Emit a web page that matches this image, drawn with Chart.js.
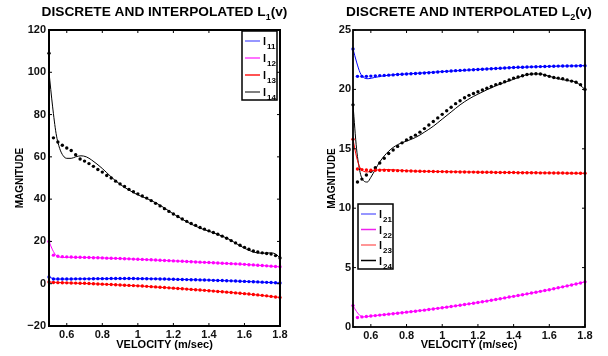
<!DOCTYPE html>
<html>
<head>
<meta charset="utf-8">
<script src="https://cdn.jsdelivr.net/npm/chart.js@4.4.0/dist/chart.umd.min.js"></script>
<style>
  body { margin: 0; background: #fff; }
  #wrap { position: relative; width: 608px; height: 356px; }
  canvas { position: absolute; top: 0; }
  #c1 { left: 0; }
  #c2 { left: 304px; }
</style>
</head>
<body>
<div id="wrap">
  <canvas id="c1" width="304" height="356"></canvas>
  <canvas id="c2" width="304" height="356"></canvas>
</div>
<script>
// discrete velocities (m/sec)
const velocity = [0.5, 0.525, 0.55, 0.575, 0.6, 0.625, 0.65, 0.675, 0.7, 0.725, 0.75, 0.775, 0.8,
  0.825, 0.85, 0.875, 0.9, 0.925, 0.95, 0.975, 1.0, 1.025, 1.05, 1.075, 1.1, 1.125, 1.15, 1.175, 1.2,
  1.225, 1.25, 1.275, 1.3, 1.325, 1.35, 1.375, 1.4, 1.425, 1.45, 1.475, 1.5, 1.525, 1.55, 1.575, 1.6,
  1.625, 1.65, 1.675, 1.7, 1.725, 1.75, 1.775, 1.8];

// L1(v) discrete values
const l11 = [3.2, 2.2, 2.2, 2.2, 2.2, 2.2, 2.3, 2.3, 2.3, 2.3, 2.35, 2.4, 2.4,
  2.4, 2.45, 2.45, 2.45, 2.45, 2.45, 2.45, 2.4, 2.4, 2.35, 2.3, 2.3, 2.25, 2.2, 2.15, 2.1,
  2.05, 2.0, 1.95, 1.9, 1.85, 1.8, 1.75, 1.7, 1.6, 1.55, 1.5, 1.4, 1.35, 1.25, 1.2, 1.1,
  1.0, 0.95, 0.85, 0.75, 0.65, 0.55, 0.45, 0.35];
const l12 = [20, 13.5, 13.0, 12.8, 12.7, 12.6, 12.55, 12.5, 12.45, 12.4, 12.3, 12.25, 12.2,
  12.1, 12.05, 12.0, 11.9, 11.8, 11.75, 11.65, 11.55, 11.5, 11.4, 11.3, 11.2, 11.1, 11.0, 10.9, 10.8,
  10.7, 10.6, 10.5, 10.4, 10.3, 10.2, 10.1, 10.0, 9.9, 9.8, 9.7, 9.6, 9.5, 9.4, 9.3, 9.15,
  9.0, 8.9, 8.75, 8.6, 8.45, 8.3, 8.15, 8.0];
const l13 = [0.8, 0.6, 0.5, 0.45, 0.4, 0.35, 0.3, 0.25, 0.2, 0.1, 0.0, -0.1, -0.2,
  -0.3, -0.4, -0.5, -0.6, -0.7, -0.8, -0.9, -1.0, -1.1, -1.25, -1.4, -1.5, -1.65, -1.8, -1.95, -2.1,
  -2.25, -2.4, -2.55, -2.7, -2.85, -3.0, -3.15, -3.3, -3.5, -3.65, -3.8, -4.0, -4.15, -4.35, -4.5, -4.7,
  -4.9, -5.1, -5.3, -5.5, -5.75, -6.0, -6.25, -6.5];
const l14 = [109, 69, 67, 65.5, 64.2, 63, 61, 59, 58, 56.8, 55.5, 54, 52.8,
  51.2, 50, 48.5, 47.2, 46, 44.6, 43.5, 42.5, 41.5, 40.5, 39.3, 38, 36.8, 35.5, 34.2, 33,
  31.8, 30.6, 29.5, 28.5, 27.6, 26.6, 25.8, 25, 24.2, 23.4, 22.5, 21.5, 20.4, 19.3, 18.2, 17.2,
  16.3, 15.5, 15, 14.6, 14.3, 14, 13.3, 12.2];

// L2(v) discrete values
const l21 = [23.4, 21.1, 21.1, 21.1, 21.12, 21.14, 21.16, 21.18, 21.2, 21.22, 21.25, 21.28, 21.3,
  21.32, 21.34, 21.36, 21.38, 21.4, 21.43, 21.46, 21.5, 21.52, 21.55, 21.58, 21.6, 21.62, 21.64, 21.66, 21.68,
  21.7, 21.72, 21.74, 21.76, 21.78, 21.8, 21.82, 21.84, 21.86, 21.87, 21.88, 21.9, 21.91, 21.92, 21.93, 21.94,
  21.95, 21.96, 21.97, 21.97, 21.98, 21.98, 21.99, 22.0];
const l22 = [1.8, 0.8, 0.85, 0.88, 0.92, 0.96, 1.0, 1.04, 1.08, 1.12, 1.16, 1.2, 1.25,
  1.29, 1.33, 1.38, 1.42, 1.47, 1.52, 1.57, 1.62, 1.67, 1.72, 1.78, 1.83, 1.89, 1.95, 2.0, 2.06,
  2.12, 2.18, 2.25, 2.32, 2.38, 2.45, 2.52, 2.58, 2.65, 2.72, 2.79, 2.86, 2.93, 3.0, 3.07, 3.14,
  3.22, 3.3, 3.38, 3.46, 3.54, 3.62, 3.7, 3.8];
const l23 = [15.8, 13.3, 13.25, 13.22, 13.2, 13.2, 13.2, 13.19, 13.18, 13.17, 13.16, 13.15, 13.14,
  13.13, 13.12, 13.11, 13.1, 13.1, 13.09, 13.08, 13.08, 13.07, 13.06, 13.06, 13.05, 13.05, 13.04, 13.04, 13.03,
  13.03, 13.02, 13.02, 13.01, 13.01, 13.0, 13.0, 13.0, 12.99, 12.99, 12.98, 12.98, 12.98, 12.97, 12.97, 12.97,
  12.96, 12.96, 12.96, 12.95, 12.95, 12.95, 12.94, 12.94];
const l24 = [18.7, 12.2, 12.45, 12.8, 13.1, 13.4, 13.8, 14.2, 14.6, 14.9, 15.2, 15.5, 15.75,
  15.95, 16.15, 16.4, 16.7, 17.0, 17.3, 17.6, 17.9, 18.2, 18.5, 18.8, 19.05, 19.3, 19.5, 19.65, 19.8,
  19.95, 20.1, 20.25, 20.4, 20.5, 20.65, 20.8, 20.95, 21.05, 21.15, 21.25, 21.3, 21.32, 21.3, 21.2, 21.1,
  21.0, 20.95, 20.9, 20.8, 20.7, 20.6, 20.4, 20.0];

// interpolated curves
const l11CurveV = [0.5, 0.52, 0.54, 0.6, 0.8, 1.0, 1.2, 1.4, 1.6, 1.8];
const l11Curve  = [3.2, 2.5, 2.2, 2.2, 2.4, 2.4, 2.1, 1.7, 1.1, 0.35];
const l12CurveV = [0.5, 0.52, 0.54, 0.56, 0.58, 0.6, 0.7, 0.8, 1.0, 1.2, 1.4, 1.6, 1.8];
const l12Curve  = [20, 16, 13.4, 12.6, 12.4, 12.5, 12.45, 12.2, 11.55, 10.8, 10.0, 9.15, 8.0];
const l13CurveV = [0.5, 0.6, 0.8, 1.0, 1.2, 1.4, 1.6, 1.8];
const l13Curve  = [0.8, 0.4, -0.2, -1.0, -2.1, -3.3, -4.7, -6.5];
const l14CurveV = [0.5, 0.52, 0.54, 0.56, 0.58, 0.6, 0.625, 0.65, 0.68, 0.71, 0.74, 0.8, 0.85, 0.9, 0.95,
  1.0, 1.05, 1.1, 1.15, 1.2, 1.25, 1.3, 1.35, 1.4, 1.45, 1.5, 1.55, 1.6, 1.65, 1.7, 1.75, 1.78, 1.8];
const l14Curve  = [100, 84, 71, 64, 60.5, 59.3, 59.3, 60, 60.5, 60, 58.5, 54.5, 50.5, 47, 44.3,
  42, 40.3, 38.3, 35.8, 33, 30.5, 28.2, 26.3, 24.8, 23.3, 21.6, 19.2, 16.8, 15, 14.4, 14.6, 13.8, 12.2];

const l21CurveV = [0.5, 0.52, 0.54, 0.56, 0.585, 0.62, 0.7, 0.8, 1.0, 1.2, 1.4, 1.6, 1.8];
const l21Curve  = [23.4, 22.3, 21.4, 21.0, 20.9, 21.0, 21.2, 21.3, 21.5, 21.68, 21.84, 21.94, 22.0];
const l22CurveV = [0.5, 0.52, 0.54, 0.56, 0.6, 0.8, 1.0, 1.2, 1.4, 1.6, 1.8];
const l22Curve  = [1.8, 1.3, 0.95, 0.85, 0.92, 1.25, 1.62, 2.06, 2.58, 3.14, 3.8];
const l23CurveV = [0.5, 0.52, 0.54, 0.56, 0.58, 0.62, 0.7, 0.8, 1.0, 1.4, 1.8];
const l23Curve  = [15.8, 14.3, 13.4, 13.1, 13.05, 13.2, 13.25, 13.15, 13.08, 13.0, 12.94];
const l24CurveV = [0.5, 0.52, 0.54, 0.56, 0.58, 0.6, 0.65, 0.7, 0.75, 0.8, 0.85, 0.9, 0.95,
  1.0, 1.05, 1.1, 1.15, 1.2, 1.3, 1.4, 1.5, 1.55, 1.6, 1.65, 1.7, 1.75, 1.8];
const l24Curve  = [18.7, 15, 13, 12.3, 12.2, 12.6, 13.9, 14.8, 15.35, 15.65, 15.95, 16.4, 16.9,
  17.5, 18.1, 18.7, 19.2, 19.6, 20.3, 20.85, 21.3, 21.3, 21.1, 20.9, 20.75, 20.6, 20.0];

// axes
const xTickValues = [0.6, 0.8, 1, 1.2, 1.4, 1.6, 1.8];
const leftYTicks = [-20, 0, 20, 40, 60, 80, 100, 120];
const rightYTicks = [0, 5, 10, 15, 20, 25];

const FONT = '"Liberation Sans", Arial, Helvetica, sans-serif';
Chart.defaults.font.family = FONT;

function pts(xs, ys) {
  return xs.map((v, i) => ({x: v, y: ys[i]}));
}

function dots(ys, color) {
  return {
    data: pts(velocity, ys), showLine: false,
    pointRadius: 1.7, pointBackgroundColor: color, pointBorderWidth: 0, clip: false
  };
}

function curve(xs, ys, color) {
  return {
    data: pts(xs, ys), borderColor: color, borderWidth: 1,
    pointRadius: 0, cubicInterpolationMode: 'monotone', fill: false
  };
}

function textParts(ctx, parts, cx, y) {
  let total = 0;
  parts.forEach(p => {
    ctx.font = 'bold ' + p.size + 'px ' + FONT;
    p.w = ctx.measureText(p.text).width;
    total += p.w;
  });
  let x = cx - total / 2;
  ctx.textAlign = 'left';
  parts.forEach(p => {
    ctx.font = 'bold ' + p.size + 'px ' + FONT;
    ctx.fillText(p.text, x, y + (p.dy || 0));
    x += p.w;
  });
}

// frame, inward ticks, titles and the boxed legend
const matlabLook = {
  id: 'matlabLook',
  afterDraw(chart, args, opts) {
    const {ctx, chartArea: a, scales: {x, y}} = chart;
    ctx.save();
    ctx.strokeStyle = '#000';
    ctx.lineWidth = 1;
    ctx.beginPath();
    x.ticks.forEach(t => {
      const px = x.getPixelForValue(t.value);
      ctx.moveTo(px, a.bottom); ctx.lineTo(px, a.bottom - 3);
      ctx.moveTo(px, a.top); ctx.lineTo(px, a.top + 3);
    });
    y.ticks.forEach(t => {
      const py = y.getPixelForValue(t.value);
      ctx.moveTo(a.left, py); ctx.lineTo(a.left + 3, py);
      ctx.moveTo(a.right, py); ctx.lineTo(a.right - 3, py);
    });
    ctx.stroke();
    ctx.lineWidth = opts.frameWidth;
    ctx.strokeRect(a.left, a.top, a.right - a.left, a.bottom - a.top);

    const cx = (a.left + a.right) / 2;
    ctx.fillStyle = '#000';
    ctx.textBaseline = 'alphabetic';
    textParts(ctx, [
      {text: 'DISCRETE AND INTERPOLATED L', size: 13.7},
      {text: opts.sub, size: 9, dy: 3.5},
      {text: '(v)', size: 13.7}
    ], cx, 16);
    textParts(ctx, [{text: 'VELOCITY (m/sec)', size: 11}], cx, 347.5);

    ctx.save();
    ctx.translate(opts.yTitleX, (a.top + a.bottom) / 2);
    ctx.rotate(-Math.PI / 2);
    ctx.textBaseline = 'middle';
    textParts(ctx, [{text: 'MAGNITUDE', size: 10}], 0, 0);
    ctx.restore();

    // legend box
    const lg = opts.legend;
    const bx = lg.right ? a.right - lg.dx - lg.w : a.left + lg.dx;
    const by = a.top + lg.dy;
    ctx.fillStyle = '#fff';
    ctx.fillRect(bx, by, lg.w, lg.h);
    ctx.lineWidth = 1.5;
    ctx.strokeStyle = '#000';
    ctx.strokeRect(bx, by, lg.w, lg.h);
    lg.items.forEach((it, i) => {
      const ry = by + lg.first + i * lg.step;
      ctx.strokeStyle = it.color;
      ctx.lineWidth = 1.5;
      ctx.beginPath();
      ctx.moveTo(bx + 3, ry); ctx.lineTo(bx + 18, ry);
      ctx.stroke();
      ctx.fillStyle = '#000';
      ctx.font = 'bold 11px ' + FONT;
      ctx.textAlign = 'left';
      ctx.fillText('l', bx + 21, ry + 4);
      ctx.font = 'bold 8px ' + FONT;
      ctx.fillText(it.sub, bx + 25, ry + 8);
    });
    ctx.restore();
  }
};

function makeChart(id, cfg) {
  const tickFont = {family: FONT, size: 11, weight: 'bold'};
  return new Chart(document.getElementById(id), {
    type: 'line',
    data: {datasets: cfg.datasets},
    plugins: [matlabLook],
    options: {
      responsive: false,
      animation: false,
      layout: {padding: {top: 30, right: cfg.padRight, left: 0, bottom: 0}},
      plugins: {
        legend: {display: false},
        title: {display: false},
        tooltip: {enabled: false},
        matlabLook: cfg.look
      },
      scales: {
        x: {
          type: 'linear', min: 0.5, max: 1.8,
          afterBuildTicks: s => { s.ticks = xTickValues.map(v => ({value: v})); },
          afterFit: s => { s.height = cfg.xHeight; },
          grid: {display: false, drawTicks: false},
          border: {display: false},
          ticks: {font: tickFont, color: '#111', padding: 2, autoSkip: false, maxRotation: 0,
            callback: v => String(v)}
        },
        y: {
          min: cfg.yTicks[0], max: cfg.yTicks[cfg.yTicks.length - 1],
          afterBuildTicks: s => { s.ticks = cfg.yTicks.map(v => ({value: v})); },
          afterFit: s => { s.width = 49; },
          grid: {display: false, drawTicks: false},
          border: {display: false},
          ticks: {font: tickFont, color: '#111', padding: cfg.yPad,
            callback: v => v < 0 ? '\u2212' + Math.abs(v) : String(v)}
        }
      }
    }
  });
}

makeChart('c1', {
  padRight: 24, xHeight: 30, yTicks: leftYTicks, yPad: 3,
  datasets: [
    dots(l11, '#0000ff'), dots(l12, '#ff00ff'), dots(l13, '#ff0000'), dots(l14, '#000000'),
    curve(l11CurveV, l11Curve, '#0000ff'), curve(l12CurveV, l12Curve, '#ff00ff'),
    curve(l13CurveV, l13Curve, '#ff0000'), curve(l14CurveV, l14Curve, '#000000')
  ],
  look: {
    frameWidth: 2, sub: '1', yTitleX: 20,
    legend: {right: true, dx: 3, dy: 1, w: 35, h: 69, first: 10, step: 17,
      items: [{color: '#7373ff', sub: '11'}, {color: '#ff44ff', sub: '12'},
              {color: '#ff1a1a', sub: '13'}, {color: '#555555', sub: '14'}]}
  }
});

makeChart('c2', {
  padRight: 23, xHeight: 29, yTicks: rightYTicks, yPad: 2,
  datasets: [
    dots(l21, '#0000ff'), dots(l22, '#ff00ff'), dots(l23, '#ff0000'), dots(l24, '#000000'),
    curve(l21CurveV, l21Curve, '#0000ff'), curve(l22CurveV, l22Curve, '#ff00ff'),
    curve(l23CurveV, l23Curve, '#ff0000'), curve(l24CurveV, l24Curve, '#000000')
  ],
  look: {
    frameWidth: 1.8, sub: '2', yTitleX: 28,
    legend: {right: false, dx: 5, dy: 174, w: 35, h: 65, first: 10, step: 15.5,
      items: [{color: '#7373ff', sub: '21'}, {color: '#ee22ee', sub: '22'},
              {color: '#ff7373', sub: '23'}, {color: '#000000', sub: '24'}]}
  }
});
</script>
</body>
</html>
